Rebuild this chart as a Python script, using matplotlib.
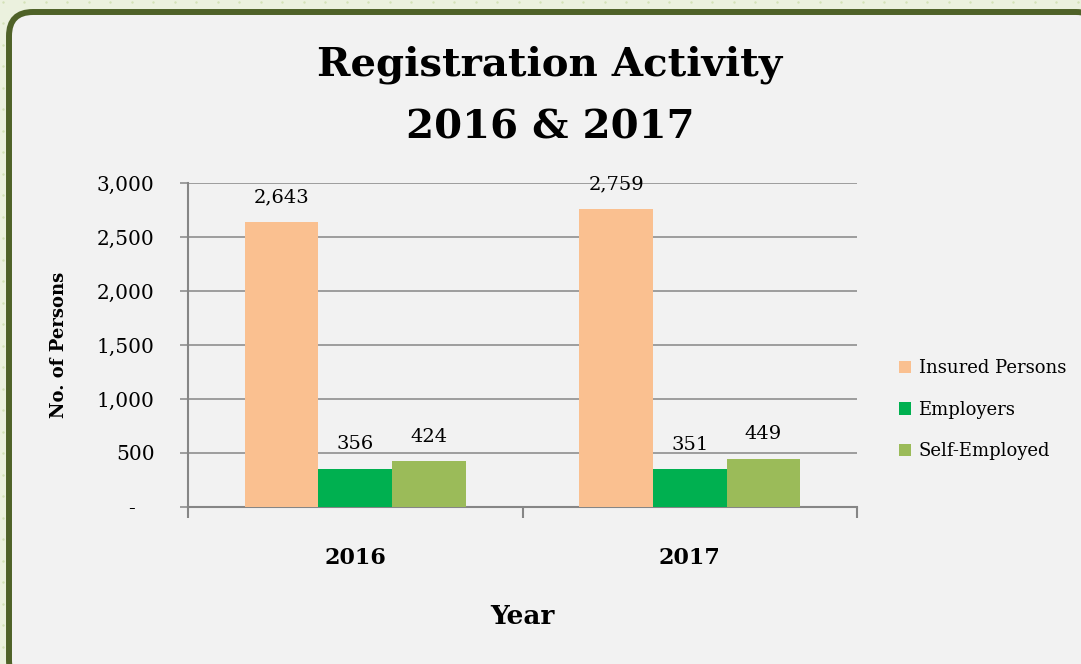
import numpy as np
import matplotlib.pyplot as plt
from matplotlib.patches import FancyBboxPatch

years = ["2016", "2017"]
series = ["Insured Persons", "Employers", "Self-Employed"]
insured = [2643, 2759]
employers = [356, 351]
self_emp = [424, 449]
colors = ["#fac090", "#00b050", "#9bbb59"]

plt.rcParams['font.family'] = ['DejaVu Serif']
W, H = 1081, 664
fig = plt.figure(figsize=(W / 100, H / 100), dpi=100)
fig.patch.set_facecolor("#ebf1de")

# background: dotted page + rounded frame (pixel coords, y up)
bg = fig.add_axes([0, 0, 1, 1])
bg.set_xlim(0, W)
bg.set_ylim(0, H)
bg.axis("off")
gx, gy = np.meshgrid(np.arange(2.5, W, 21.5), np.arange(H - 1.5, 0, -21.5))
bg.scatter(gx.ravel(), gy.ravel(), s=3, color="#d3e2b6", lw=0)
bg.add_patch(FancyBboxPatch((9, H - 684), 1100 - 9, 684 - 12,
                            boxstyle="round,pad=0,rounding_size=24",
                            fc="#f2f2f2", ec="#4f6228", lw=4.3, clip_on=False))

ax = fig.add_axes([188 / W, 1 - 507 / H, (857 - 188) / W, (507 - 183) / H])
ax.patch.set_alpha(0)

x = np.arange(len(years))
bw = 0.22
for i, (vals, name) in enumerate(zip([insured, employers, self_emp], series)):
    pos = x + (i - 1) * bw
    bars = ax.bar(pos, vals, bw, color=colors[i], label=name, zorder=3)
    for b, v in zip(bars, vals):
        ax.annotate(f"{v:,}", (b.get_x() + b.get_width() / 2, v),
                    xytext=(0, 11), textcoords="offset points",
                    ha="center", va="bottom", fontsize=14, zorder=4)

ax.set_xlim(-0.5, 1.5)
ax.set_ylim(0, 3000)
ax.set_yticks(np.arange(0, 3001, 500))
ax.set_yticklabels(["-   "] + [f"{v:,}" for v in range(500, 3001, 500)], fontsize=14.5)
ax.yaxis.grid(True, color="#868686", lw=1.1, zorder=0)
ax.set_xticks(x)
ax.set_xticklabels(years, fontsize=16, fontweight="bold")
ax.set_xticks([-0.5, 0.5, 1.5], minor=True)
ax.tick_params(axis="x", which="major", length=0, pad=29)
ax.tick_params(axis="x", which="minor", length=8, width=1.5, color="#868686")
ax.tick_params(axis="y", length=6, width=1.1, color="#868686", pad=18)
for s in ["top", "right"]:
    ax.spines[s].set_visible(False)
for s in ["left", "bottom"]:
    ax.spines[s].set_color("#868686")
    ax.spines[s].set_linewidth(1.5)

ax.set_ylabel("No. of Persons", fontsize=13, fontweight="bold", labelpad=21)
ax.set_xlabel("Year", fontsize=19, fontweight="bold", labelpad=25)

fig.text(550 / W, 1 - 96 / H, "Registration Activity\n2016 & 2017", ha="center", va="center",
         fontsize=29, fontweight="bold", linespacing=1.8)

ax.legend(loc="center left", bbox_to_anchor=(1.038, 0.3), frameon=False, fontsize=13,
          handlelength=0.7, handleheight=0.7, handletextpad=0.4, labelspacing=1.3)

fig.savefig("out.png", dpi=100, facecolor=fig.get_facecolor())
